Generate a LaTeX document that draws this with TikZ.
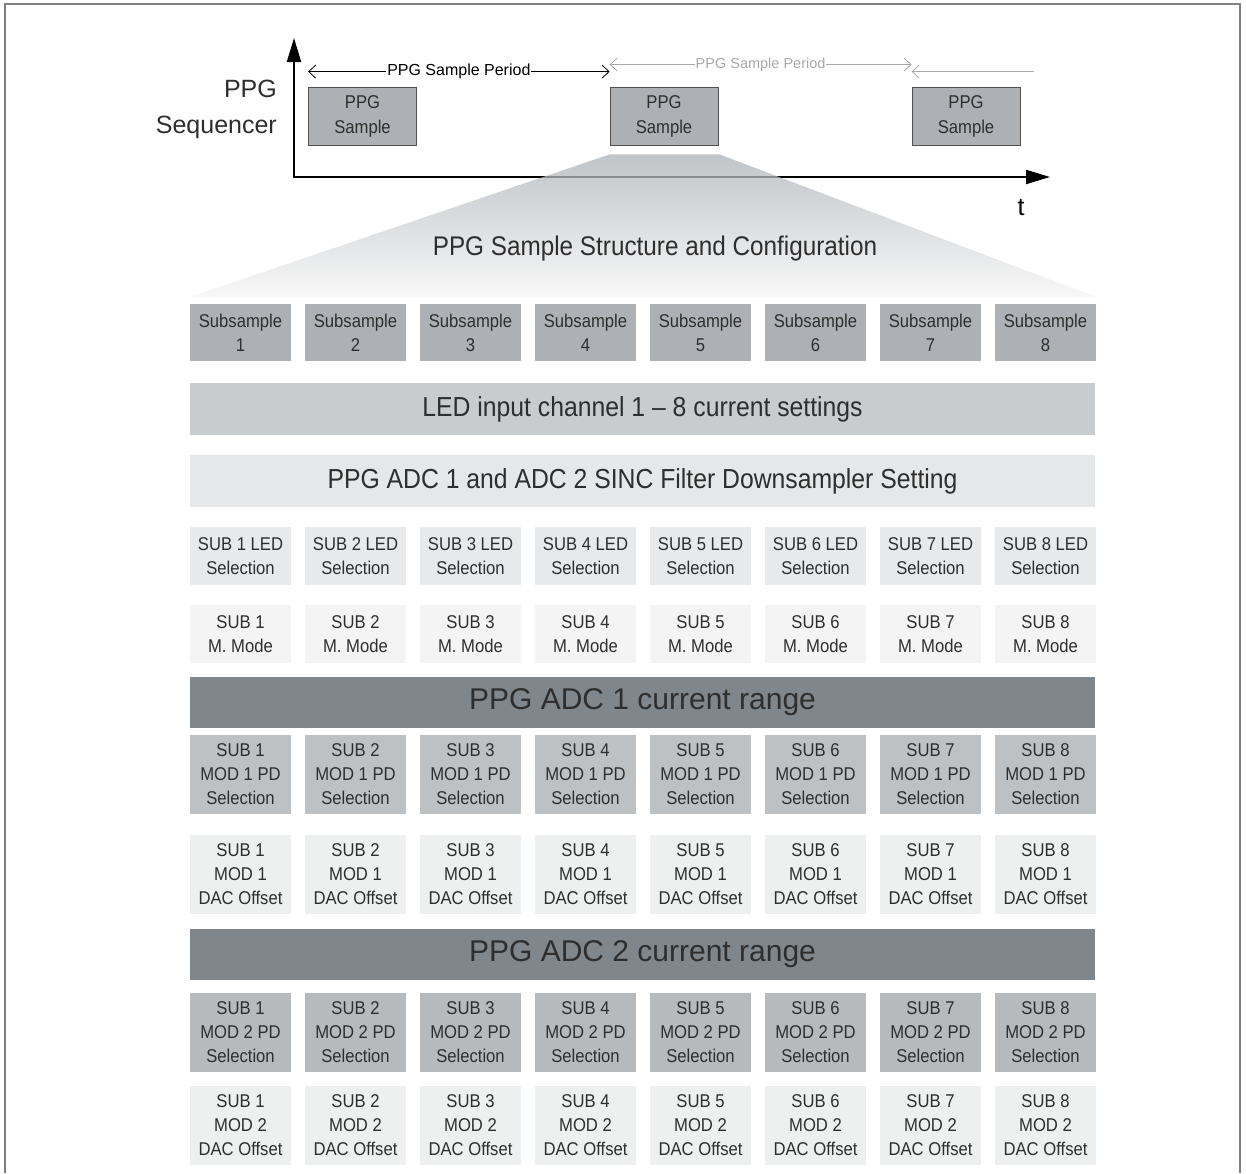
\documentclass[tikz,border=0pt]{standalone}
\usepackage{fontspec}
\setmainfont{Liberation Sans}
\newfontfamily\narrowsf[FakeStretch=0.9,Ligatures=TeX]{Liberation Sans}
\usetikzlibrary{positioning,arrows.meta,calc}

\definecolor{frameg}{HTML}{808080}
\definecolor{textg}{HTML}{2E2E2E}
\definecolor{sampfill}{HTML}{ADB1B6}
\definecolor{sampline}{HTML}{505050}
\definecolor{ledfill}{HTML}{C9CCCF}
\definecolor{sincfill}{HTML}{E6E7E8}
\definecolor{selfill}{HTML}{E8E9EA}
\definecolor{modefill}{HTML}{F4F4F4}
\definecolor{adcfill}{HTML}{7F878C}
\definecolor{pdafill}{HTML}{BEC1C4}
\definecolor{pdbfill}{HTML}{B6BABD}
\definecolor{dacfill}{HTML}{EEEFEF}
\definecolor{periodg}{HTML}{A8A8A8}

\begin{document}
\begin{tikzpicture}[
    x=1pt, y=1pt,
    txt/.style={text=textg, align=center, inner sep=0pt},
    cell/.style={
        txt,
        minimum width=101pt,
        font=\narrowsf\fontsize{18.5}{24}\selectfont
    },
    subbox/.style={cell, fill=sampfill, minimum height=57pt},
    selbox/.style={cell, fill=selfill, minimum height=58pt},
    modebox/.style={cell, fill=modefill, minimum height=58pt},
    pdabox/.style={cell, fill=pdafill, minimum height=79pt},
    pdbbox/.style={cell, fill=pdbfill, minimum height=79pt},
    dacbox/.style={cell, fill=dacfill, minimum height=79pt},
    bar/.style={
        txt,
        minimum width=905pt,
        minimum height=52pt,
        font=\narrowsf\fontsize{27.5}{32}\selectfont
    },
    adcbar/.style={bar, fill=adcfill, minimum height=51pt,
        font=\fontsize{30}{34}\selectfont},
    sample/.style={
        txt,
        draw=sampline,
        line width=0.8pt,
        fill=sampfill,
        minimum width=108pt,
        minimum height=58pt,
        font=\narrowsf\fontsize{18.5}{25}\selectfont
    },
    axis/.style={-{Triangle[length=24pt,width=14pt]}, line width=2pt},
    period/.style={{Straight Barb[length=7pt,width=13pt]}-{Straight Barb[length=7pt,width=13pt]},
        line width=0.8pt},
    plabel/.style={fill=white, inner sep=1pt, font=\fontsize{16}{18}\selectfont}
]
\useasboundingbox (0,0) rectangle (1246,-1173);

% frame
\draw[frameg, line width=2pt] (5,-1173) -- (5,-4) -- (1240,-4) -- (1240,-1173);

% ============================================================
% PPG SEQUENCER
% ============================================================
\coordinate (orig) at (294,-177);
\coordinate (ytip) at (294,-38);
\coordinate (xtip) at (1050,-177);
\draw[axis] (orig) -- (ytip);
\draw[axis] ([xshift=-1pt]orig) -- (xtip);

\node[txt, anchor=east, align=right, font=\fontsize{25}{36}\selectfont]
    (seq) at (277,-109) {PPG\\Sequencer};
\node[txt, text=black, font=\fontsize{25}{28}\selectfont] (tlab) at (1021,-208) {t};

\node[sample] (smp1) at (362.5,-116) {PPG\\Sample};
\node[sample] (smp2) at (664,-116) {PPG\\Sample};
\node[sample] (smp3) at (966,-116) {PPG\\Sample};

\coordinate (pa) at ($(smp1.north west)+(0,15)$);
\coordinate (pb) at ($(smp2.north west)+(0,15)$);
\coordinate (pc) at ($(smp2.north west)+(0,22)$);
\coordinate (pd) at ($(smp3.north west)+(0,22)$);
\coordinate (pe) at ($(smp3.north west)+(0,15)$);
\coordinate (pf) at ($(smp3.north east)+(14,15)$);

\draw[period] (pa) -- node[plabel] {PPG Sample Period} (pb);
\draw[period, periodg] (pc) -- node[plabel, text=periodg,
    font=\fontsize{14.5}{16}\selectfont] {PPG Sample Period} (pd);
\draw[{Straight Barb[length=7pt,width=13pt]}-, periodg, line width=0.8pt] (pe) -- (pf);

% zoom wedge
\coordinate (wa) at ($(smp2.south west)+(0,-9)$);
\coordinate (wb) at ($(smp2.south east)+(1,-9)$);
\shade[top color=sampfill, bottom color=white!96!black, opacity=0.75]
    (wa) -- (wb) -- (1096,-297) -- (190,-297) -- cycle;
\node[txt, font=\narrowsf\fontsize{27}{30}\selectfont] (title) at (655,-249)
    {PPG Sample Structure and Configuration};

% ============================================================
% PPG SAMPLE STRUCTURE
% ============================================================
\node[bar, fill=ledfill] (ledbar) at (642.5,-409)
    {LED input channel 1 – 8 current settings};
\node[bar, fill=sincfill] (sincbar) at (642.5,-481)
    {PPG ADC 1 and ADC 2 SINC Filter Downsampler Setting};
\node[adcbar] (adca) at (642.5,-702.5) {PPG ADC 1 current range};
\node[adcbar] (adcb) at (642.5,-954) {PPG ADC 2 current range};

\foreach \i in {1,...,8} {
    \pgfmathsetmacro{\cx}{240.5+115*(\i-1)}
    \node[subbox] (ss\i) at (\cx,-332.5) {Subsample\\\i};
    \node[selbox] (led\i) at (\cx,-556) {SUB \i\ LED\\Selection};
    \node[modebox] (mm\i) at (\cx,-634) {SUB \i\\M. Mode};
    \node[pdabox] (pda\i) at (\cx,-774.5) {SUB \i\\MOD 1 PD\\Selection};
    \node[dacbox] (daca\i) at (\cx,-874.5) {SUB \i\\MOD 1\\DAC Offset};
    \node[pdbbox] (pdb\i) at (\cx,-1032.5) {SUB \i\\MOD 2 PD\\Selection};
    \node[dacbox] (dacb\i) at (\cx,-1125.5) {SUB \i\\MOD 2\\DAC Offset};
}

\end{tikzpicture}
\end{document}
